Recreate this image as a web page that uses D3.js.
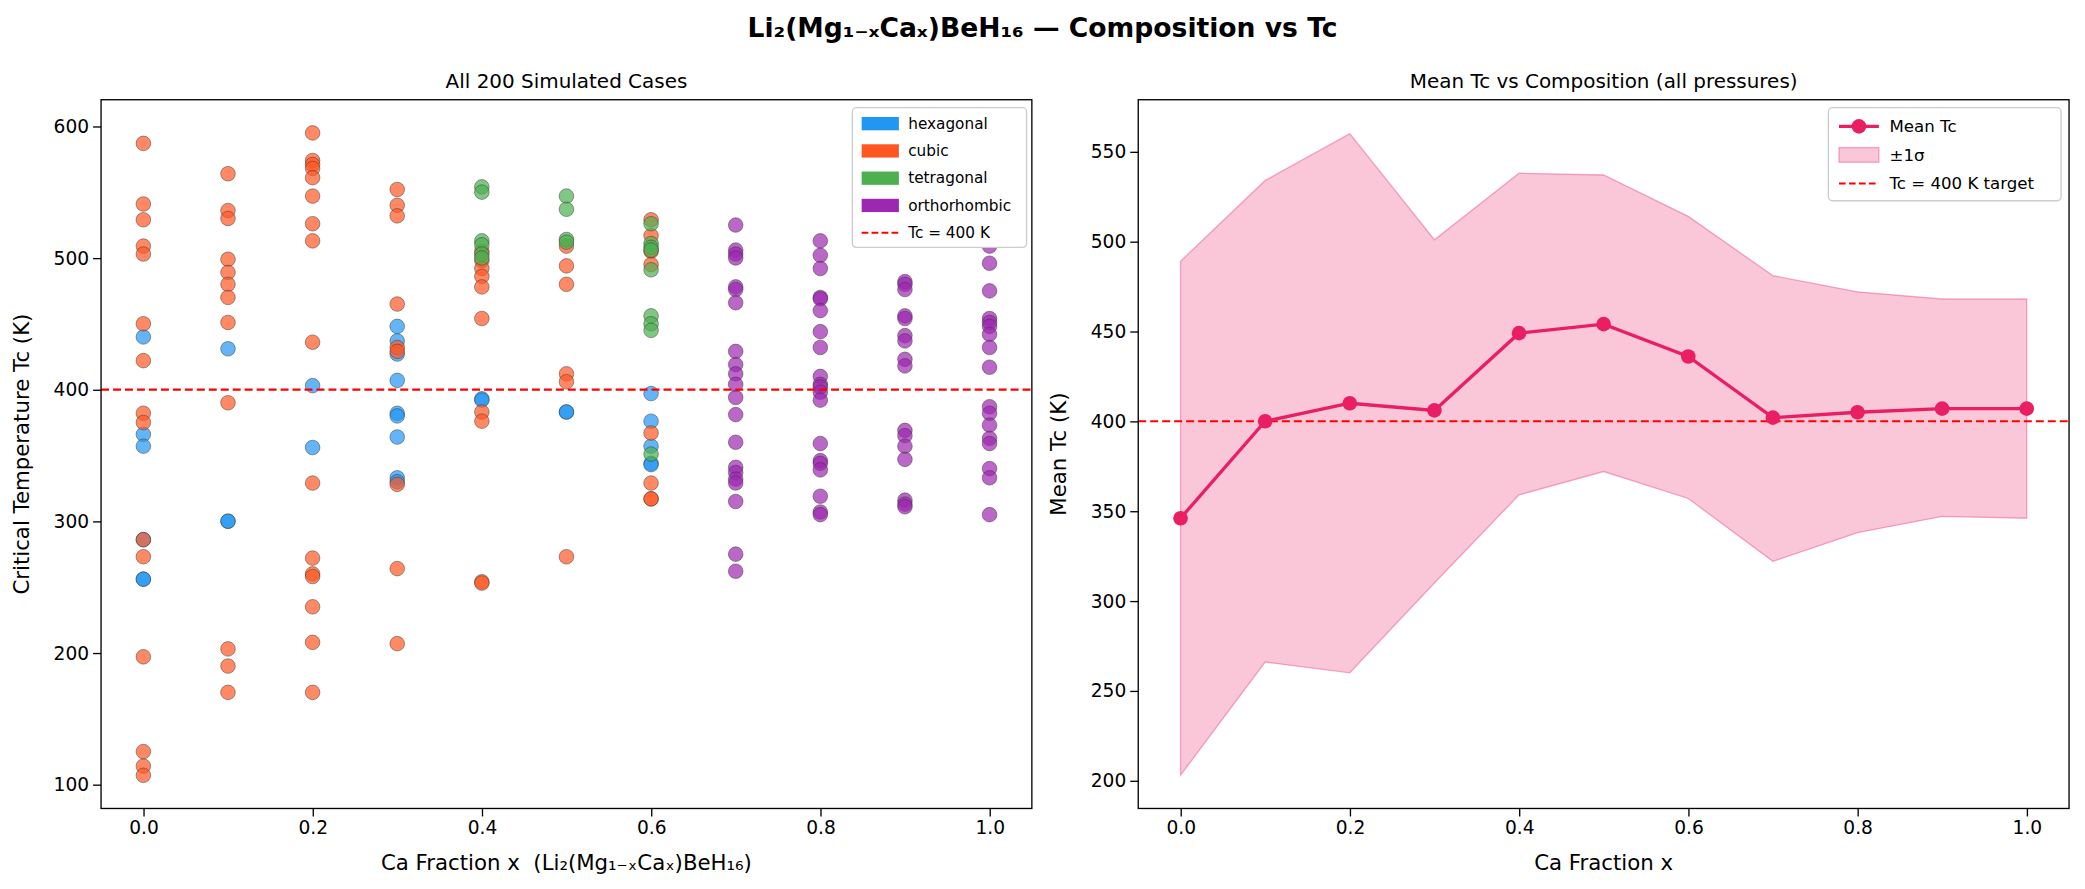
<!DOCTYPE html>
<html><head><meta charset="utf-8">
<script src="https://cdn.jsdelivr.net/npm/d3@7"></script>
<style>body{margin:0;background:#fff;font-family:"DejaVu Sans",sans-serif}</style>
</head><body><svg id="svg1" width="2085" height="889"></svg>
<script>
// Tc values per composition, grouped by structure
var hexagonal = {0:[440,366,357,256,256,286],0.1:[431,300,300],0.2:[403,356],0.3:[448,437,427,407,382,380,364,333,330],0.4:[393,392],0.5:[383,383],0.6:[397,376,357,344,343]};
var cubic = {0:[587,541,529,509,503,450,422,382,375,286,273,197,125,114,107],0.1:[564,536,530,499,489,480,470,451,390,203,190,170],0.2:[595,574,571,568,561,547,526,513,436,329,272,260,258,235,208,170],0.3:[552,540,532,465,432,429,328,264,207],0.4:[505,498,492,486,478,454,383,376,254,253],0.5:[509,494,480,412,406,273],0.6:[529,517,505,495,367,329,317,317]};
var tetragonal = {0.4:[554,550,513,510,503,500],0.5:[547,537,514,512],0.6:[526,511,508,506,491,456,450,445,351]};
var orthorhombic = {0.7:[525,506,503,500,478,476,466,429,419,412,404,394,381,360,341,337,332,329,315,275,262],0.8:[513,502,492,470,469,460,444,432,410,404,402,398,392,359,346,344,339,319,307,305],0.9:[482,480,476,456,454,441,437,423,418,369,365,357,347,316,313,311],1.0:[518,509,496,475,454,451,448,442,432,417,387,382,373,363,359,340,333,305]};

var fractions = [0,0.1,0.2,0.3,0.4,0.5,0.6,0.7,0.8,0.9,1.0];
var meanTc = [346,400,410,406,449,454,436,402,405,407,407];
var upperTc = [489,534,560,501,538,537,514,481,472,468,468];
var lowerTc = [203,266,260,310,359,372,357,322,338,347,346];

var structures = [
  {name:'hexagonal', color:'#2196F3', data:hexagonal},
  {name:'cubic', color:'#FF5722', data:cubic},
  {name:'tetragonal', color:'#4CAF50', data:tetragonal},
  {name:'orthorhombic', color:'#9C27B0', data:orthorhombic}
];

// layout was measured on a 1568-wide copy, scale up to the window
var svg = d3.select('#svg1').append('g').attr('transform','scale(' + (2085/1568) + ')');
svg.append('text').attr('x',784).attr('y',28).attr('text-anchor','middle')
  .attr('font-size',20).attr('font-weight','bold').text('Li₂(Mg₁₋ₓCaₓ)BeH₁₆ — Composition vs Tc');

function panel(left, title, yDomain, yTicks, xLabel, yLabel) {
  var w = 700, h = 533, top = 75;
  var g = svg.append('g').attr('transform','translate(' + left + ',' + top + ')');
  var x = d3.scaleLinear().domain([-0.05,1.05]).range([0,w]);
  var y = d3.scaleLinear().domain(yDomain).range([h,0]);
  var ax = g.append('g').attr('transform','translate(0,' + h + ')')
    .call(d3.axisBottom(x).tickValues([0,0.2,0.4,0.6,0.8,1.0]).tickFormat(d3.format('.1f')).tickSizeOuter(0));
  var ay = g.append('g').call(d3.axisLeft(y).tickValues(yTicks).tickSizeOuter(0));
  [ax, ay].forEach(function(a){
    a.selectAll('text').attr('font-size',14).attr('font-family','DejaVu Sans').attr('fill','#000');
    a.select('.domain').remove();
    a.selectAll('line').attr('stroke','#000').attr('stroke-width',1);
  });
  g.append('text').attr('x',w/2).attr('y',-9).attr('text-anchor','middle').attr('font-size',15).text(title);
  g.append('text').attr('x',w/2).attr('y',h+46).attr('text-anchor','middle').attr('font-size',16).text(xLabel);
  g.append('text').attr('transform','translate(' + (-54) + ',' + (h/2) + ') rotate(-90)').attr('text-anchor','middle').attr('font-size',16).text(yLabel);
  return {g:g, x:x, y:y, w:w, h:h};
}

// left panel
var L = panel(76, 'All 200 Simulated Cases', [81.8,620.2], [100,200,300,400,500,600],
  'Ca Fraction x\u00a0\u00a0(Li₂(Mg₁₋ₓCaₓ)BeH₁₆)', 'Critical Temperature Tc (K)');
structures.forEach(function(s){
  var pts = [];
  Object.keys(s.data).forEach(function(k){ s.data[k].forEach(function(v){ pts.push([+k, v]); }); });
  L.g.selectAll('.pt-' + s.name).data(pts).enter().append('circle')
    .attr('cx', function(d){ return L.x(d[0]); })
    .attr('cy', function(d){ return L.y(d[1]); })
    .attr('r', 5.5).attr('fill', s.color).attr('fill-opacity', 0.7)
    .attr('stroke', '#333').attr('stroke-width', 0.5).attr('stroke-opacity', 0.7);
});
L.g.append('line').attr('x1',0).attr('x2',L.w).attr('y1',L.y(400)).attr('y2',L.y(400))
  .attr('stroke','red').attr('stroke-width',1.6).attr('stroke-dasharray','6,3');
L.g.append('rect').attr('width',L.w).attr('height',L.h).attr('fill','none').attr('stroke','#000').attr('stroke-width',1);

var lg = L.g.append('g').attr('transform','translate(565,6)');
lg.append('rect').attr('width',131).attr('height',105).attr('fill','#fff').attr('stroke','#ccc').attr('rx',3);
structures.forEach(function(s,i){
  lg.append('rect').attr('x',7).attr('y',7 + i*20.5).attr('width',28).attr('height',10).attr('fill',s.color);
  lg.append('text').attr('x',42).attr('y',16 + i*20.5).attr('font-size',11.5).text(s.name);
});
lg.append('line').attr('x1',7).attr('x2',35).attr('y1',94).attr('y2',94).attr('stroke','red').attr('stroke-width',1.6).attr('stroke-dasharray','5,2.5');
lg.append('text').attr('x',42).attr('y',98).attr('font-size',11.5).text('Tc = 400 K');

// right panel
var R = panel(856, 'Mean Tc vs Composition (all pressures)', [184.5,578.9], [200,250,300,350,400,450,500,550],
  'Ca Fraction x', 'Mean Tc (K)');
var band = fractions.map(function(f,i){ return {x:f, lo:lowerTc[i], hi:upperTc[i], m:meanTc[i]}; });
R.g.append('path').datum(band)
  .attr('d', d3.area().x(function(d){ return R.x(d.x); }).y0(function(d){ return R.y(d.lo); }).y1(function(d){ return R.y(d.hi); }))
  .attr('fill','#E91E63').attr('fill-opacity',0.25).attr('stroke','#E91E63').attr('stroke-opacity',0.35);
R.g.append('line').attr('x1',0).attr('x2',R.w).attr('y1',R.y(400)).attr('y2',R.y(400))
  .attr('stroke','red').attr('stroke-width',1.6).attr('stroke-dasharray','6,3');
R.g.append('path').datum(band)
  .attr('d', d3.line().x(function(d){ return R.x(d.x); }).y(function(d){ return R.y(d.m); }))
  .attr('fill','none').attr('stroke','#E91E63').attr('stroke-width',2.5);
R.g.selectAll('.mean').data(band).enter().append('circle')
  .attr('cx', function(d){ return R.x(d.x); }).attr('cy', function(d){ return R.y(d.m); })
  .attr('r',5.5).attr('fill','#E91E63');
R.g.append('rect').attr('width',R.w).attr('height',R.h).attr('fill','none').attr('stroke','#000').attr('stroke-width',1);

var rg = R.g.append('g').attr('transform','translate(519,6)');
rg.append('rect').attr('width',175).attr('height',70).attr('fill','#fff').attr('stroke','#ccc').attr('rx',3);
rg.append('line').attr('x1',8).attr('x2',38).attr('y1',14).attr('y2',14).attr('stroke','#E91E63').attr('stroke-width',2.5);
rg.append('circle').attr('cx',23).attr('cy',14).attr('r',5.5).attr('fill','#E91E63');
rg.append('text').attr('x',46).attr('y',18).attr('font-size',12.5).text('Mean Tc');
rg.append('rect').attr('x',8).attr('y',30).attr('width',30).attr('height',11).attr('fill','#E91E63').attr('fill-opacity',0.25).attr('stroke','#E91E63').attr('stroke-opacity',0.35);
rg.append('text').attr('x',46).attr('y',40).attr('font-size',12.5).text('±1σ');
rg.append('line').attr('x1',8).attr('x2',38).attr('y1',57).attr('y2',57).attr('stroke','red').attr('stroke-width',1.6).attr('stroke-dasharray','5,2.5');
rg.append('text').attr('x',46).attr('y',61).attr('font-size',12.5).text('Tc = 400 K target');
</script></body></html>
